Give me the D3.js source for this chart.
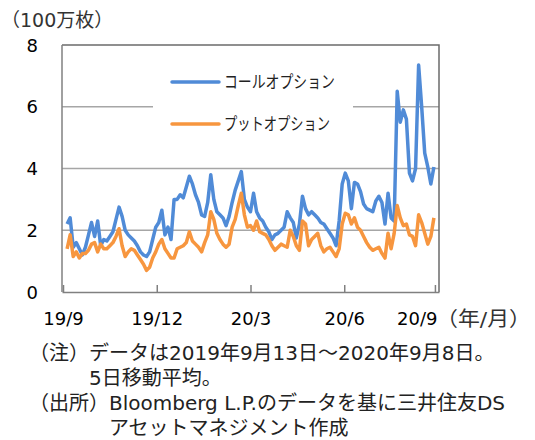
<!DOCTYPE html>
<html>
<head>
<meta charset="utf-8">
<script src="https://cdn.jsdelivr.net/npm/d3@7"></script>
<style>
  body { margin: 0; background: #fff; }
  svg { display: block; font-family: "DejaVu Sans", "Noto Sans CJK JP", sans-serif; }
</style>
</head>
<body>
<svg id="chart" width="535" height="440"></svg>
<script>
const startDate = new Date(2019, 8, 13);
const stepDays = 3;

const callValues = [
  2.2, 2.4, 1.45, 1.6, 1.4, 1.2, 1.45, 1.85, 2.25, 1.8,
  2.3, 1.5, 1.7, 1.65, 1.8, 1.95, 2.35, 2.75, 2.45, 2.0,
  1.85, 1.75, 1.65, 1.5, 1.3, 1.2, 1.15, 1.3, 1.7, 2.1,
  2.25, 2.65, 1.85, 2.1, 1.7, 3.0, 3.0, 3.15, 3.05, 3.4,
  3.75, 3.5, 3.15, 2.9, 2.5, 2.45, 2.9, 3.8, 3.0, 2.6,
  2.5, 2.4, 2.15, 2.45, 2.9, 3.3, 3.6, 3.9, 3.0, 2.75,
  2.6, 3.2, 2.6, 2.4, 2.3, 2.1, 1.95, 1.7, 1.85, 1.9,
  2.0, 2.1, 2.6, 2.4, 2.25, 1.75, 2.2, 3.1, 2.7, 2.5,
  2.6, 2.5, 2.4, 2.25, 2.2, 2.05, 1.9, 1.75, 1.5, 2.3,
  3.5, 3.85, 3.6, 2.7, 3.55, 3.5, 3.25, 2.85, 2.7, 2.65,
  2.6, 2.95, 3.1, 2.9, 2.2, 3.2, 2.4, 2.3, 6.5, 5.5,
  5.9, 5.6, 3.85, 3.6, 4.0, 7.35, 6.0, 4.5, 4.05, 3.5,
  4.05
];

const putValues = [
  1.4, 1.85, 1.15, 1.3, 1.1, 1.25, 1.25, 1.35, 1.55, 1.6,
  1.3, 1.55, 1.4, 1.4, 1.5, 1.6, 1.8, 2.05, 1.5, 1.15,
  1.3, 1.4, 1.35, 1.2, 1.05, 0.9, 0.7, 0.8, 1.1, 1.3,
  1.55, 1.7, 1.4, 1.25, 1.1, 1.1, 1.4, 1.45, 1.5, 1.6,
  1.95, 1.65, 1.55, 1.45, 1.3, 1.6, 1.85, 2.6, 2.35, 1.9,
  1.7, 1.55, 1.45, 1.55, 2.1, 2.35, 2.8, 3.2, 2.5, 2.1,
  2.15, 2.0, 2.3, 1.95, 1.9, 1.85, 1.7, 1.5, 1.35, 1.45,
  1.55, 1.5, 1.45, 2.0, 1.8, 1.5, 1.35, 2.3, 2.2, 1.5,
  1.7, 1.8, 1.9, 1.5, 1.3, 1.4, 1.45, 1.3, 1.15, 1.4,
  2.2, 2.55, 2.5, 2.2, 2.4, 2.1, 2.0, 1.8, 1.6, 1.45,
  1.35, 1.4, 1.45, 1.25, 1.1, 1.9, 1.4, 1.9, 2.8, 2.4,
  2.15, 2.2, 1.85, 1.8, 1.5, 2.5, 2.25, 1.9, 1.55, 1.8,
  2.4
];

const seriesNames = ["コールオプション", "プットオプション"];
const seriesColors = ["#508bd7", "#f7963f"];
const yTicks = [0, 2, 4, 6, 8];
const xTickDates = ["2019-09-09", "2019-12-10", "2020-03-11", "2020-06-11", "2020-09-08"];
const notes = [
  "（注）データは2019年9月13日～2020年9月8日。",
  "　　　5日移動平均。",
  "（出所）Bloomberg L.P.のデータを基に三井住友DS",
  "　　　　アセットマネジメント作成"
];

const dates = callValues.map((_, i) => d3.timeDay.offset(startDate, i * stepDays));
const parse = d3.timeParse("%Y-%m-%d");

const svg = d3.select("#chart");
const plotL = 62, plotR = 439, plotT = 45, plotB = 292;

const x = d3.scaleTime()
  .domain([new Date(2019, 8, 8), new Date(2020, 8, 12)])
  .range([plotL, plotR]);
const y = d3.scaleLinear().domain([0, 8]).range([plotB, plotT]);

// gridlines
svg.append("g")
  .selectAll("line")
  .data(yTicks.filter(d => d > 0 && d < 8))
  .join("line")
  .attr("x1", plotL).attr("x2", plotR)
  .attr("y1", d => y(d)).attr("y2", d => y(d))
  .attr("stroke", "#a6a6a6").attr("stroke-width", 1.5);

// plot border (top / right)
svg.append("path")
  .attr("d", `M${plotL},${y(8)}H${plotR}V${plotB}`)
  .attr("fill", "none").attr("stroke", "#6b6b6b").attr("stroke-width", 1.5);

// y axis labels
svg.append("g")
  .selectAll("text")
  .data(yTicks)
  .join("text")
  .attr("x", 38).attr("y", d => y(d))
  .attr("text-anchor", "end").attr("dominant-baseline", "central")
  .style("font-size", "18px").attr("fill", "#000")
  .text(d => d);

svg.append("text")
  .attr("x", 1).attr("y", 27)
  .style("font-size", "19px").attr("fill", "#333")
  .text("（100万枚）");

// x axis
const xAxis = svg.append("g")
  .attr("transform", `translate(0,${plotB})`)
  .call(d3.axisBottom(x)
    .tickValues(xTickDates.map(parse))
    .tickFormat(d3.timeFormat("%y/%-m"))
    .tickSizeInner(-7).tickSizeOuter(0));
xAxis.select(".domain").attr("stroke", "#808080").attr("stroke-width", 1.5);
xAxis.selectAll(".tick line").attr("stroke", "#808080").attr("stroke-width", 1.5);
xAxis.selectAll(".tick text")
  .attr("y", 20).attr("dy", "0.71em")
  .style("font-size", "18px").style("font-family", "DejaVu Sans").attr("fill", "#000");
// last label kept inside the plot edge, as in the original
xAxis.selectAll(".tick:last-of-type text")
  .attr("text-anchor", "end").attr("x", 2);

svg.append("text")
  .attr("x", 436).attr("y", 326)
  .attr("textLength", 95).attr("lengthAdjust", "spacingAndGlyphs")
  .style("font-size", "20px").attr("fill", "#333")
  .text("（年/月）");

// y axis line
svg.append("line")
  .attr("x1", plotL).attr("x2", plotL).attr("y1", plotT).attr("y2", plotB)
  .attr("stroke", "#808080").attr("stroke-width", 1.5);

// legend box
svg.append("rect")
  .attr("x", 153).attr("y", 62).attr("width", 200).attr("height", 82)
  .attr("fill", "#fff");

const line = vals => d3.line()
  .x((d, i) => x(dates[i]))
  .y(d => y(d))(vals);

[callValues, putValues].forEach((vals, k) => {
  svg.append("path")
    .attr("d", line(vals))
    .attr("fill", "none")
    .attr("stroke", seriesColors[k])
    .attr("stroke-width", 3.5)
    .attr("stroke-linejoin", "round");
});

// legend
const legendWidths = [111, 106];
const leg = svg.append("g");
seriesNames.forEach((name, k) => {
  const ly = 82 + k * 42;
  leg.append("line")
    .attr("x1", 172).attr("x2", 219).attr("y1", ly).attr("y2", ly)
    .attr("stroke", seriesColors[k]).attr("stroke-width", 3.5)
    .attr("stroke-linecap", "round");
  leg.append("text")
    .attr("x", 224).attr("y", ly).attr("dominant-baseline", "central")
    .attr("textLength", legendWidths[k]).attr("lengthAdjust", "spacingAndGlyphs")
    .style("font-size", "17px").attr("fill", "#222")
    .text(name);
});

// notes
svg.append("g")
  .selectAll("text")
  .data(notes)
  .join("text")
  .attr("x", 29).attr("y", (d, i) => 360 + i * 25)
  .style("font-size", "20px").attr("fill", "#222")
  .text(d => d);
</script>
</body>
</html>
